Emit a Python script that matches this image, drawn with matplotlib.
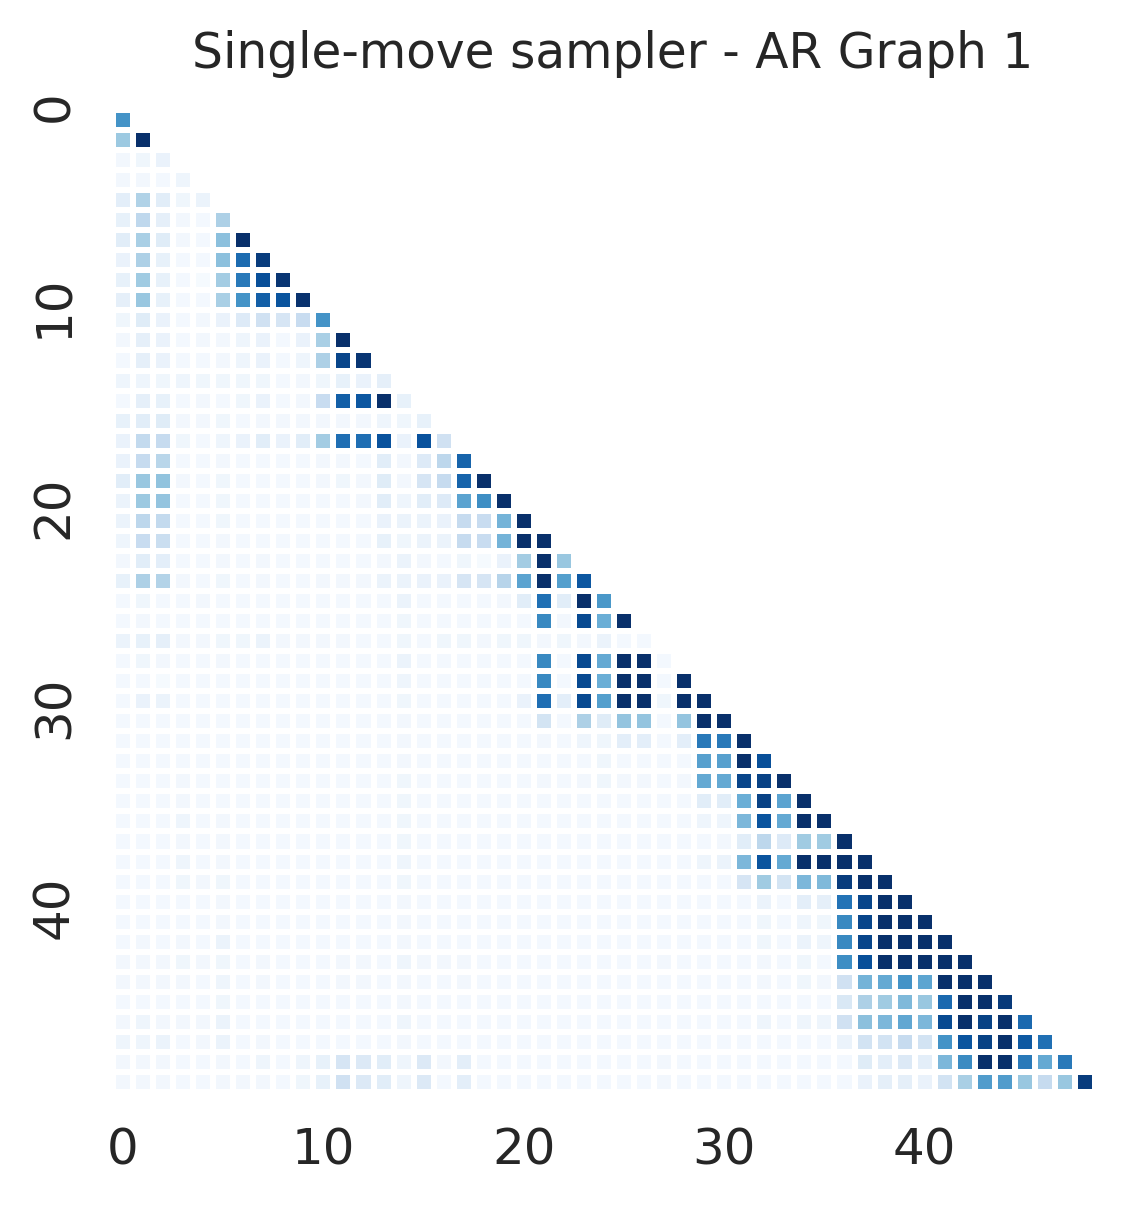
import numpy as np
import matplotlib
matplotlib.use("Agg")
import matplotlib.pyplot as plt
from matplotlib.transforms import ScaledTranslation
import seaborn as sns

# lower-triangular acceptance matrix, values in percent, one list per row
rows_0_15 = [
    [62],
    [38, 100],
    [3, 4, 7],
    [3, 3, 2, 5],
    [10, 32, 11, 4, 6],
    [8, 27, 9, 3, 2, 33],
    [11, 34, 12, 3, 2, 42, 100],
    [7, 33, 8, 2, 2, 42, 77, 95],
    [8, 37, 8, 2, 1, 36, 72, 88, 98],
    [9, 39, 8, 2, 2, 34, 62, 82, 86, 99],
    [4, 12, 7, 2, 3, 7, 13, 20, 17, 24, 62],
    [3, 9, 7, 2, 3, 3, 5, 7, 2, 7, 34, 100],
    [2, 9, 7, 2, 2, 3, 5, 7, 2, 5, 33, 92, 98],
    [5, 5, 4, 5, 4, 4, 4, 4, 2, 3, 4, 8, 7, 9],
    [2, 9, 8, 2, 3, 2, 4, 7, 2, 3, 24, 82, 85, 100, 8],
    [8, 11, 12, 3, 3, 4, 2, 3, 3, 3, 3, 3, 3, 5, 4, 8],
]

rows_16_31 = [
    [7, 26, 25, 4, 2, 5, 7, 11, 7, 11, 36, 76, 76, 87, 7, 87, 20],
    [7, 25, 29, 2, 2, 3, 2, 2, 2, 2, 3, 3, 2, 11, 3, 13, 28, 80],
    [11, 39, 41, 3, 2, 4, 2, 2, 2, 2, 3, 4, 3, 12, 3, 17, 25, 80, 100],
    [6, 38, 40, 2, 2, 4, 2, 2, 2, 2, 2, 2, 3, 11, 5, 11, 13, 55, 64, 100],
    [6, 28, 26, 2, 2, 4, 2, 2, 2, 2, 2, 2, 2, 7, 6, 6, 7, 25, 24, 48, 100],
    [5, 24, 23, 2, 2, 3, 2, 2, 2, 2, 2, 2, 2, 8, 4, 6, 6, 25, 24, 48, 100, 100],
    [3, 11, 10, 2, 2, 3, 2, 3, 2, 2, 2, 2, 2, 3, 6, 3, 2, 4, 1, 7, 36, 100, 39],
    [8, 33, 31, 3, 2, 4, 2, 3, 2, 2, 3, 3, 3, 6, 6, 7, 7, 17, 17, 30, 55, 100, 57, 85],
    [2, 4, 2, 2, 3, 2, 2, 2, 2, 2, 2, 2, 2, 2, 6, 2, 2, 2, 2, 3, 11, 75, 11, 100, 60],
    [2, 3, 2, 2, 2, 2, 2, 2, 2, 2, 2, 2, 2, 2, 4, 2, 2, 2, 2, 2, 2, 66, 3, 90, 50, 100],
    [6, 8, 9, 3, 3, 4, 4, 6, 3, 3, 3, 3, 2, 2, 4, 2, 4, 4, 3, 4, 4, 3, 4, 3, 6, 2, 2],
    [2, 4, 3, 2, 2, 3, 2, 2, 2, 2, 2, 2, 2, 2, 6, 2, 2, 2, 2, 2, 2, 66, 2, 90, 52, 100, 100, 2],
    [2, 2, 1, 2, 2, 2, 2, 2, 2, 2, 2, 2, 2, 2, 5, 2, 2, 2, 2, 2, 2, 66, 2, 90, 50, 100, 100, 2, 100],
    [2, 7, 6, 2, 2, 2, 2, 2, 2, 2, 2, 2, 2, 2, 4, 2, 2, 2, 2, 2, 7, 76, 10, 90, 57, 100, 100, 4, 100, 100],
    [2, 2, 2, 2, 2, 2, 2, 2, 2, 2, 2, 2, 2, 2, 3, 2, 2, 2, 2, 2, 2, 18, 2, 33, 12, 40, 40, 2, 40, 100, 100],
    [2, 2, 2, 2, 2, 2, 2, 2, 2, 2, 2, 2, 2, 2, 3, 2, 2, 2, 2, 2, 2, 3, 2, 5, 4, 10, 10, 2, 10, 72, 72, 100],
]

rows_32_48 = [
    [2, 2, 2, 2, 2, 2, 2, 2, 2, 2, 2, 2, 2, 2, 3, 2,
     2, 2, 2, 2, 2, 2, 2, 2, 4, 2, 2, 2, 2, 56, 56, 100,
     88],
    [2, 2, 2, 3, 2, 2, 2, 2, 2, 2, 2, 2, 2, 2, 4, 2,
     2, 2, 2, 2, 2, 3, 2, 3, 4, 3, 3, 2, 3, 52, 52, 92,
     93, 100],
    [2, 2, 2, 3, 2, 2, 2, 2, 2, 2, 2, 2, 2, 2, 4, 2,
     2, 2, 2, 2, 2, 2, 2, 2, 2, 2, 2, 2, 2, 11, 11, 50,
     93, 55, 100],
    [2, 2, 2, 5, 2, 3, 2, 2, 2, 2, 2, 2, 2, 2, 4, 2,
     2, 2, 2, 2, 2, 2, 2, 2, 2, 2, 2, 2, 2, 5, 5, 46,
     86, 52, 100, 100],
    [2, 2, 2, 3, 2, 3, 2, 2, 2, 2, 2, 2, 2, 2, 4, 2,
     2, 2, 2, 2, 2, 2, 2, 2, 2, 2, 2, 2, 2, 2, 3, 11,
     28, 13, 37, 37, 100],
    [2, 2, 2, 5, 2, 3, 2, 2, 2, 2, 2, 2, 2, 2, 5, 2,
     2, 2, 2, 2, 2, 2, 2, 2, 2, 2, 2, 2, 2, 5, 6, 46,
     86, 52, 100, 100, 100, 100],
    [2, 2, 2, 4, 3, 4, 2, 2, 2, 2, 2, 2, 2, 2, 4, 2,
     2, 2, 2, 2, 2, 2, 2, 2, 2, 2, 2, 2, 2, 2, 2, 17,
     37, 18, 46, 45, 95, 100, 100],
    [2, 2, 2, 2, 2, 3, 2, 2, 2, 2, 2, 2, 2, 2, 3, 2,
     2, 2, 2, 2, 2, 2, 2, 2, 2, 2, 2, 2, 2, 2, 2, 2,
     6, 2, 10, 9, 74, 92, 100, 100],
    [2, 2, 2, 2, 2, 3, 2, 2, 2, 2, 2, 2, 2, 2, 3, 2,
     2, 2, 2, 2, 2, 2, 2, 2, 2, 2, 2, 2, 2, 2, 2, 2,
     4, 2, 5, 4, 66, 92, 100, 100, 100],
    [2, 3, 2, 3, 2, 6, 2, 2, 2, 2, 2, 2, 2, 2, 3, 2,
     2, 2, 2, 2, 2, 2, 2, 2, 2, 2, 2, 2, 2, 2, 2, 2,
     4, 2, 6, 5, 66, 92, 100, 100, 100, 100],
    [3, 3, 3, 4, 3, 4, 2, 3, 2, 2, 2, 3, 3, 2, 5, 3,
     3, 3, 2, 2, 2, 2, 2, 2, 2, 2, 2, 3, 2, 2, 2, 2,
     3, 2, 4, 2, 64, 88, 100, 100, 100, 100, 100],
    [3, 3, 3, 3, 2, 5, 2, 3, 2, 2, 2, 3, 3, 2, 3, 2,
     2, 3, 2, 2, 2, 2, 2, 2, 2, 2, 2, 2, 2, 2, 2, 2,
     3, 2, 4, 3, 20, 48, 52, 62, 54, 100, 100, 100],
    [2, 2, 2, 2, 2, 4, 2, 2, 2, 2, 2, 2, 2, 2, 3, 2,
     2, 2, 2, 2, 2, 2, 2, 2, 2, 2, 2, 2, 2, 2, 2, 2,
     2, 2, 2, 2, 15, 33, 37, 45, 39, 78, 100, 100, 96],
    [3, 5, 3, 3, 3, 6, 2, 2, 2, 2, 2, 2, 2, 2, 5, 2,
     2, 2, 2, 2, 2, 2, 2, 2, 2, 2, 2, 2, 2, 2, 2, 2,
     5, 2, 5, 5, 20, 42, 46, 53, 46, 90, 100, 93, 100, 78],
    [5, 5, 6, 2, 3, 6, 2, 3, 2, 2, 2, 2, 2, 2, 3, 2,
     2, 2, 2, 2, 2, 2, 2, 2, 2, 2, 2, 2, 2, 2, 2, 2,
     2, 2, 2, 2, 6, 19, 19, 25, 19, 62, 86, 93, 100, 84, 75],
    [3, 3, 3, 2, 2, 3, 2, 5, 2, 5, 8, 17, 14, 11, 5, 14,
     3, 10, 2, 2, 2, 2, 2, 2, 2, 2, 2, 3, 2, 2, 2, 2,
     2, 2, 2, 2, 2, 12, 10, 14, 10, 46, 65, 100, 100, 72, 52, 72],
    [3, 3, 3, 2, 2, 3, 3, 3, 2, 4, 8, 20, 14, 11, 5, 14,
     2, 10, 2, 2, 2, 2, 2, 2, 2, 2, 2, 3, 2, 2, 2, 2,
     2, 2, 2, 2, 2, 7, 9, 9, 7, 19, 34, 58, 58, 39, 25, 39, 95],
]

title = "Single-move sampler - AR Graph 1"

rows = rows_0_15 + rows_16_31 + rows_32_48
n = len(rows)
mat = np.full((n, n), np.nan)
for i, r in enumerate(rows):
    mat[i, :len(r)] = np.array(r) / 100.0
mask = np.triu(np.ones((n, n), dtype=bool), k=1)

sns.set_theme(style="white")
plt.rcParams["font.family"] = ["DejaVu Sans"]

fig = plt.figure(figsize=(11.43, 12.05), dpi=100)
ax = fig.add_axes([113 / 1143, 1 - 1092 / 1205, 982 / 1143, 982 / 1205])
sns.heatmap(mat, mask=mask, cmap="Blues", vmin=0, vmax=1, cbar=False,
            linewidths=4.1, linecolor="white",
            xticklabels=10, yticklabels=10, ax=ax)
ax.set_title(title, fontsize=35, pad=30, color="#262626", x=0.509)
ax.tick_params(labelsize=36, colors="#262626", length=0, pad=25)
ax.tick_params(axis="x", labelrotation=0)
# y labels sit a little above the row centres in the original
shift = ScaledTranslation(0, 14 / 100, fig.dpi_scale_trans)
for lab in ax.get_yticklabels():
    lab.set_rotation(90)
    lab.set_va("center")
    lab.set_transform(lab.get_transform() + shift)

fig.savefig("out.png", dpi=100)
